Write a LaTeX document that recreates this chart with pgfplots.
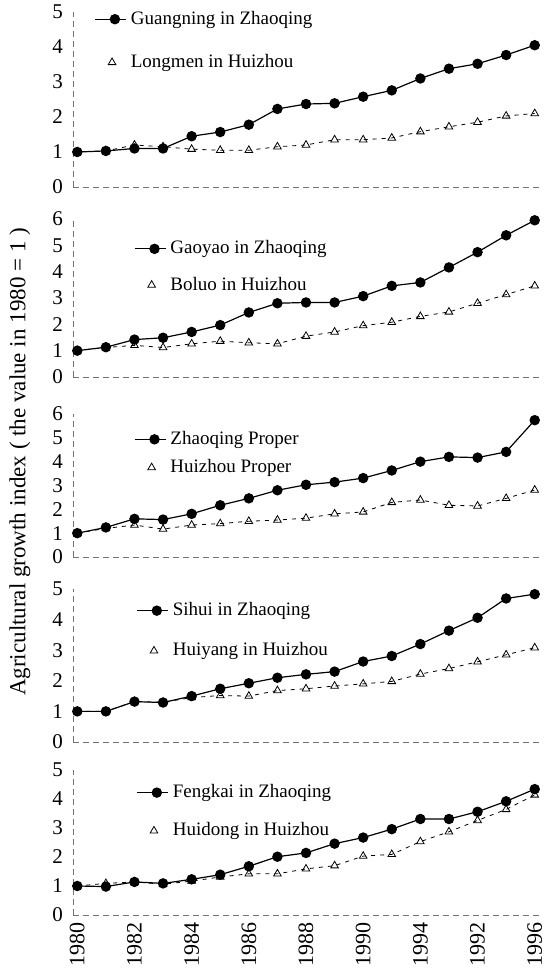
\documentclass[border=0pt]{standalone}
\usepackage{pgfplots}
\pgfplotsset{compat=1.18}
\usepackage{fontspec}
\setmainfont{Liberation Serif}

\pgfplotsset{
 panel/.style={
  scale only axis, width=233pt,
  xmin=1979.85, xmax=1996.15, ymin=0,
  axis x line=bottom, axis y line=left,
  axis line style={black!55, densely dashed, line width=0.4pt, -},
  major tick length=0pt,
  xtick={1980,1982,...,1996}, xticklabels={},
  ytick={0,...,6},
  yticklabel style={font=\fontsize{10.5}{12}\selectfont, xshift=-1.5pt},
  /pgf/number format/assume math mode=true,
  anchor=south west,
  clip=false,
  legend style={draw=none, fill=none, anchor=north west, font=\fontsize{9.5}{11}\selectfont, inner sep=0pt},
  legend cell align=left,
  legend image code/.code={\draw[mark repeat=2,mark phase=2,##1] plot coordinates {(0cm,0cm)(0.35cm,0cm)(0.55cm,0cm)};},
 },
 zq/.style={black, line width=0.6pt, mark=*, mark size=2.3pt, mark options={solid}},
 hz/.style={black, line width=0.4pt, dash pattern=on 2pt off 2.5pt, mark=triangle, mark size=2.2pt, mark options={solid, line width=0.4pt, fill=none},
   legend image code/.code={\draw[##1] plot coordinates {(0.3cm,0cm)};}},
}

\begin{document}
\begin{tikzpicture}
\useasboundingbox (0,0) rectangle (279.5pt,488.5pt);

% Panel 1
\begin{axis}[panel, at={(36.5pt,395pt)}, height=87.5pt, ymax=5, ytick={0,...,5},
  legend style={at={(0.045,1.03)}, row sep=9.5pt}]
\addplot[zq] coordinates {(1980,1) (1981,1.03) (1982,1.1) (1983,1.1) (1984,1.45) (1985,1.57) (1986,1.78) (1987,2.23) (1988,2.37) (1989,2.39) (1990,2.58) (1991,2.76) (1992,3.1) (1993,3.38) (1994,3.52) (1995,3.77) (1996,4.05)};
\addlegendentry{Guangning in Zhaoqing}
\addplot[hz] coordinates {(1980,1) (1981,1.03) (1982,1.2) (1983,1.15) (1984,1.08) (1985,1.05) (1986,1.05) (1987,1.15) (1988,1.2) (1989,1.35) (1990,1.35) (1991,1.4) (1992,1.58) (1993,1.72) (1994,1.85) (1995,2.03) (1996,2.1)};
\addlegendentry{Longmen in Huizhou}
\end{axis}

% Panel 2
\begin{axis}[panel, at={(36.5pt,300pt)}, height=79pt, ymax=6,
  legend style={at={(0.13,0.89)}, row sep=6pt}]
\addplot[zq] coordinates {(1980,1) (1981,1.13) (1982,1.42) (1983,1.49) (1984,1.71) (1985,1.97) (1986,2.45) (1987,2.8) (1988,2.83) (1989,2.83) (1990,3.07) (1991,3.46) (1992,3.59) (1993,4.16) (1994,4.74) (1995,5.38) (1996,5.95)};
\addlegendentry{Gaoyao in Zhaoqing}
\addplot[hz] coordinates {(1980,1) (1981,1.12) (1982,1.2) (1983,1.12) (1984,1.26) (1985,1.36) (1986,1.3) (1987,1.26) (1988,1.55) (1989,1.71) (1990,1.95) (1991,2.08) (1992,2.3) (1993,2.47) (1994,2.8) (1995,3.13) (1996,3.46)};
\addlegendentry{Boluo in Huizhou}
\end{axis}

% Panel 3
\begin{axis}[panel, at={(36.5pt,210pt)}, height=71.5pt, ymax=6,
  legend style={at={(0.13,0.91)}, row sep=2pt}]
\addplot[zq] coordinates {(1980,1) (1981,1.24) (1982,1.6) (1983,1.57) (1984,1.81) (1985,2.17) (1986,2.46) (1987,2.8) (1988,3.03) (1989,3.14) (1990,3.31) (1991,3.63) (1992,4.0) (1993,4.2) (1994,4.17) (1995,4.41) (1996,5.74)};
\addlegendentry{Zhaoqing Proper}
\addplot[hz] coordinates {(1980,1) (1981,1.2) (1982,1.34) (1983,1.17) (1984,1.34) (1985,1.4) (1986,1.5) (1987,1.55) (1988,1.63) (1989,1.81) (1990,1.89) (1991,2.29) (1992,2.39) (1993,2.17) (1994,2.14) (1995,2.46) (1996,2.81)};
\addlegendentry{Huizhou Proper}
\end{axis}

% Panel 4
\begin{axis}[panel, at={(36.5pt,117.5pt)}, height=76.5pt, ymax=5, ytick={0,...,5},
  legend style={at={(0.135,0.94)}, row sep=8pt}]
\addplot[zq] coordinates {(1980,1) (1981,1.0) (1982,1.32) (1983,1.29) (1984,1.5) (1985,1.74) (1986,1.92) (1987,2.1) (1988,2.21) (1989,2.3) (1990,2.63) (1991,2.81) (1992,3.2) (1993,3.64) (1994,4.06) (1995,4.69) (1996,4.83)};
\addlegendentry{Sihui in Zhaoqing}
\addplot[hz] coordinates {(1980,1) (1981,1.0) (1982,1.32) (1983,1.3) (1984,1.45) (1985,1.52) (1986,1.5) (1987,1.68) (1988,1.74) (1989,1.83) (1990,1.9) (1991,1.98) (1992,2.22) (1993,2.4) (1994,2.62) (1995,2.85) (1996,3.08)};
\addlegendentry{Huiyang in Huizhou}
\end{axis}

% Panel 5
\begin{axis}[panel, at={(36.5pt,31pt)}, height=72.5pt, ymax=5, ytick={0,...,5},
  xticklabels={1980,1982,1984,1986,1988,1990,1994,1992,1996},
  xticklabel style={rotate=90, anchor=east, font=\fontsize{11}{12}\selectfont, yshift=0pt},
  legend style={at={(0.135,0.93)}, row sep=7pt}]
\addplot[zq] coordinates {(1980,1) (1981,0.98) (1982,1.14) (1983,1.09) (1984,1.23) (1985,1.39) (1986,1.68) (1987,2.01) (1988,2.14) (1989,2.46) (1990,2.67) (1991,2.96) (1992,3.31) (1993,3.31) (1994,3.56) (1995,3.92) (1996,4.34)};
\addlegendentry{Fengkai in Zhaoqing}
\addplot[hz] coordinates {(1980,1) (1981,1.09) (1982,1.14) (1983,1.06) (1984,1.17) (1985,1.31) (1986,1.42) (1987,1.42) (1988,1.59) (1989,1.7) (1990,2.03) (1991,2.09) (1992,2.53) (1993,2.87) (1994,3.26) (1995,3.64) (1996,4.14)};
\addlegendentry{Huidong in Huizhou}
\end{axis}

\node[rotate=90, font=\fontsize{11.5}{13}\selectfont] at (10pt,257.5pt) {Agricultural growth index ( the value in 1980 = 1 )};
\end{tikzpicture}
\end{document}
